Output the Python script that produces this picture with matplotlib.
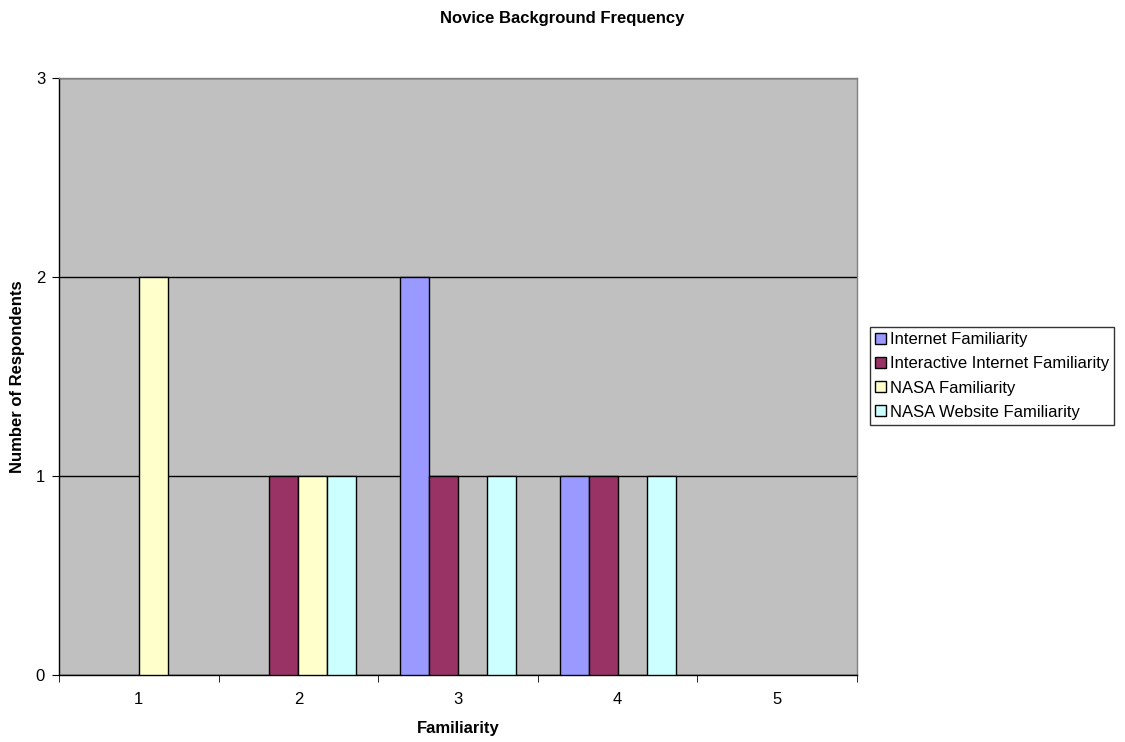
import matplotlib.pyplot as plt
import numpy as np

plt.rcParams['font.family'] = ['Liberation Sans', 'DejaVu Sans']

categories = ['1', '2', '3', '4', '5']
series_names = ['Internet Familiarity', 'Interactive Internet Familiarity',
                'NASA Familiarity', 'NASA Website Familiarity']
internet = [0, 0, 2, 1, 0]
interactive = [0, 1, 1, 1, 0]
nasa = [2, 1, 0, 0, 0]
nasa_website = [0, 1, 1, 1, 0]
colors = ['#9999FF', '#993366', '#FFFFCC', '#CCFFFF']

fs = 12

fig = plt.figure(figsize=(11.25, 7.42), dpi=100)
ax = fig.add_axes([59 / 1125, 67 / 742, 798 / 1125, 597 / 742])
ax.set_facecolor('#C0C0C0')

x = np.arange(len(categories))
width = 0.182
for i, (vals, name) in enumerate(zip([internet, interactive, nasa, nasa_website], series_names)):
    offs = (i - 1.5) * width
    v = np.array(vals, dtype=float)
    # zero-height bars are not drawn at all
    v[v == 0] = np.nan
    ax.bar(x + offs, v, width, color=colors[i], edgecolor='black', linewidth=1.0,
           label=name, zorder=3)

ax.set_xlim(-0.5, len(categories) - 0.5)
ax.set_ylim(0, 3)
ax.set_yticks([0, 1, 2, 3])
ax.yaxis.grid(True, color='black', linewidth=1.0, zorder=1)
ax.set_axisbelow(True)
ax.set_xticks(x)
ax.set_xticklabels(categories)
ax.set_xticks(np.arange(-0.5, len(categories)), minor=True)
ax.tick_params(axis='x', which='major', length=0, pad=12, labelsize=fs)
ax.tick_params(axis='x', which='minor', length=5, direction='out', color='black')
ax.tick_params(axis='y', length=5, direction='out', labelsize=fs, pad=5)

for side in ['top', 'right']:
    ax.spines[side].set_color('#808080')
    ax.spines[side].set_linewidth(1.0)
for side in ['left', 'bottom']:
    ax.spines[side].set_color('black')
    ax.spines[side].set_linewidth(1.0)

ax.set_xlabel('Familiarity', fontsize=fs, fontweight='bold', labelpad=10)
ax.set_ylabel('Number of Respondents', fontsize=fs, fontweight='bold', labelpad=8)
fig.suptitle('Novice Background Frequency', fontsize=fs, fontweight='bold',
             x=0.5, y=0.985, va='top')

leg = ax.legend(loc='center left', bbox_to_anchor=(870 / 1125, 366 / 742),
                bbox_transform=fig.transFigure, frameon=True, fancybox=False,
                fontsize=fs, handlelength=0.65, handleheight=0.65,
                handletextpad=0.25, borderpad=0.3, labelspacing=0.55,
                borderaxespad=0)
leg.get_frame().set_edgecolor('black')
leg.get_frame().set_linewidth(1.0)

fig.savefig('out.png', dpi=100)
